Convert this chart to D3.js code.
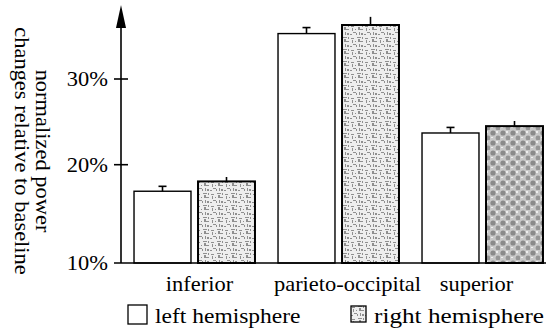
<!DOCTYPE html>
<html>
<head>
<meta charset="utf-8">
<script src="https://cdn.jsdelivr.net/npm/d3@7"></script>
<style>
  html, body { margin: 0; padding: 0; background: #fff; }
  svg { display: block; font-family: "Liberation Serif", "DejaVu Serif", serif; }
</style>
</head>
<body>
<div id="chart"></div>
<script>
// chart values
const regions = ['inferior', 'parieto-occipital', 'superior'];
const hemispheres = ['left', 'right'];
const leftValues = [17.3, 35.3, 23.7];
const rightValues = [18.3, 36.3, 24.5];
const leftErrors = [0.5, 0.7, 0.65];
const rightErrors = [0.45, 0.95, 0.6];
const yTicks = [10, 20, 30];
const legendLabels = ['left hemisphere', 'right hemisphere'];

const width = 546, height = 333;
const stretch = 1.07; // the printed type is a little wider than Liberation Serif

const svg = d3.select('#chart').append('svg')
  .attr('width', width)
  .attr('height', height);

// textures for the right hemisphere bars
const defs = svg.append('defs');

const light = defs.append('pattern')
  .attr('id', 'tex-light')
  .attr('patternUnits', 'userSpaceOnUse')
  .attr('width', 14).attr('height', 12);
light.append('rect').attr('width', 14).attr('height', 12).attr('fill', '#eeeeee');
[[1, 2, 3, 1], [2, 4, 1, 3], [7, 1, 4, 1], [8, 3, 2, 3], [10, 5, 3, 1], [3, 8, 3, 1],
 [9, 8, 1, 3], [11, 9, 2, 2], [5, 5, 1, 1], [12, 1, 1, 2], [0, 10, 2, 1], [6, 9, 1, 2]]
  .forEach(r => light.append('rect')
    .attr('x', r[0]).attr('y', r[1]).attr('width', r[2]).attr('height', r[3])
    .attr('fill', '#8f8f8f'));

const dark = defs.append('pattern')
  .attr('id', 'tex-dark')
  .attr('patternUnits', 'userSpaceOnUse')
  .attr('width', 10).attr('height', 10);
dark.append('rect').attr('width', 10).attr('height', 10).attr('fill', '#c8c8c8');
dark.append('circle').attr('cx', 3).attr('cy', 3).attr('r', 2.6).attr('fill', '#8a8a8a');
dark.append('circle').attr('cx', 8).attr('cy', 8).attr('r', 2.4).attr('fill', '#959595');
dark.append('rect').attr('x', 6).attr('y', 1).attr('width', 2).attr('height', 2).attr('fill', '#eee');
dark.append('rect').attr('x', 1).attr('y', 7).attr('width', 2).attr('height', 1).attr('fill', '#eee');

const rightFill = { 'inferior': 'url(#tex-light)', 'parieto-occipital': 'url(#tex-light)', 'superior': 'url(#tex-dark)' };

// scales (the printed axis is not evenly spaced, so a piecewise scale follows it)
const y = d3.scaleLinear().domain([10, 20, 30]).range([263, 164.7, 79]);

const x = d3.scaleBand()
  .domain(regions)
  .range([122.5, 554.5])
  .paddingInner(0.16)
  .paddingOuter(0.08);

const xSub = d3.scaleBand()
  .domain(hemispheres)
  .range([0, x.bandwidth()])
  .paddingInner(0.11);

const rows = regions.map((r, i) => [
  { region: r, side: 'left', value: leftValues[i], err: leftErrors[i] },
  { region: r, side: 'right', value: rightValues[i], err: rightErrors[i] }
]).flat();

// bars
const bars = svg.append('g');
bars.selectAll('rect')
  .data(rows)
  .enter()
  .append('rect')
  .attr('x', d => x(d.region) + xSub(d.side))
  .attr('y', d => y(d.value))
  .attr('width', xSub.bandwidth())
  .attr('height', d => y(10) - y(d.value))
  .attr('fill', d => d.side === 'left' ? '#fff' : rightFill[d.region])
  .attr('stroke', '#000')
  .attr('stroke-width', d => d.side === 'left' ? 1.4 : 2);

// error bars
const cx = d => x(d.region) + xSub(d.side) + xSub.bandwidth() / 2;
const errs = svg.append('g').attr('stroke', '#000').attr('stroke-width', 1.6);
errs.selectAll('line.stem')
  .data(rows)
  .enter()
  .append('line')
  .attr('class', 'stem')
  .attr('x1', cx).attr('x2', cx)
  .attr('y1', d => y(d.value))
  .attr('y2', d => y(d.value + d.err));
errs.selectAll('line.cap')
  .data(rows.filter(d => d.side === 'left'))
  .enter()
  .append('line')
  .attr('class', 'cap')
  .attr('x1', d => cx(d) - 4)
  .attr('x2', d => cx(d) + 4)
  .attr('y1', d => y(d.value + d.err))
  .attr('y2', d => y(d.value + d.err));

// axes
const axisX = 121;
svg.append('line')
  .attr('x1', 114).attr('x2', width)
  .attr('y1', y(10)).attr('y2', y(10))
  .attr('stroke', '#000').attr('stroke-width', 1.6);
svg.append('line')
  .attr('x1', axisX).attr('x2', axisX)
  .attr('y1', y(10)).attr('y2', 20)
  .attr('stroke', '#000').attr('stroke-width', 1.6);
svg.append('path')
  .attr('d', `M${axisX},5 L${axisX - 5},28 L${axisX + 5},28 Z`)
  .attr('fill', '#000');

const ticks = svg.append('g');
ticks.selectAll('line')
  .data(yTicks.filter(t => t > 10))
  .enter()
  .append('line')
  .attr('x1', 114).attr('x2', 128)
  .attr('y1', d => y(d)).attr('y2', d => y(d))
  .attr('stroke', '#000').attr('stroke-width', 1.6);
ticks.selectAll('g')
  .data(yTicks)
  .enter()
  .append('g')
  .attr('transform', d => `translate(108,${y(d) + 7}) scale(${stretch},1)`)
  .append('text')
  .attr('text-anchor', 'end')
  .attr('font-size', 21)
  .text(d => d + '%');

// category labels
const labelNudge = [5, 9, -6];
svg.append('g').selectAll('g')
  .data(regions)
  .enter()
  .append('g')
  .attr('transform', (d, i) => `translate(${x(d) + x.bandwidth() / 2 + labelNudge[i]},291) scale(${stretch},1)`)
  .append('text')
  .attr('text-anchor', 'middle')
  .attr('font-size', 21)
  .text(d => d);

// y axis title
const title = svg.append('text')
  .attr('transform', `translate(36,151) rotate(90) scale(${stretch},1)`)
  .attr('text-anchor', 'middle')
  .attr('font-size', 21);
title.append('tspan').attr('x', 0).attr('dy', 0).text('normalized power');
title.append('tspan').attr('x', 0).attr('dy', 21).text('changes relative to baseline');

// legend
const legendX = [128, 351];
const legendStretch = [1.12, 1.2];
const legend = svg.append('g');
legendLabels.forEach((label, i) => {
  const g = legend.append('g').attr('transform', `translate(${legendX[i]},305)`);
  g.append('rect')
    .attr('width', i === 0 ? 19 : 15)
    .attr('height', i === 0 ? 19 : 16)
    .attr('y', i === 0 ? 0 : 1)
    .attr('fill', i === 0 ? '#fff' : 'url(#tex-light)')
    .attr('stroke', '#000').attr('stroke-width', 1.3);
  g.append('g')
    .attr('transform', `translate(${i === 0 ? 27 : 23},18) scale(${legendStretch[i]},1)`)
    .append('text')
    .attr('font-size', 21)
    .text(label);
});
</script>
</body>
</html>
